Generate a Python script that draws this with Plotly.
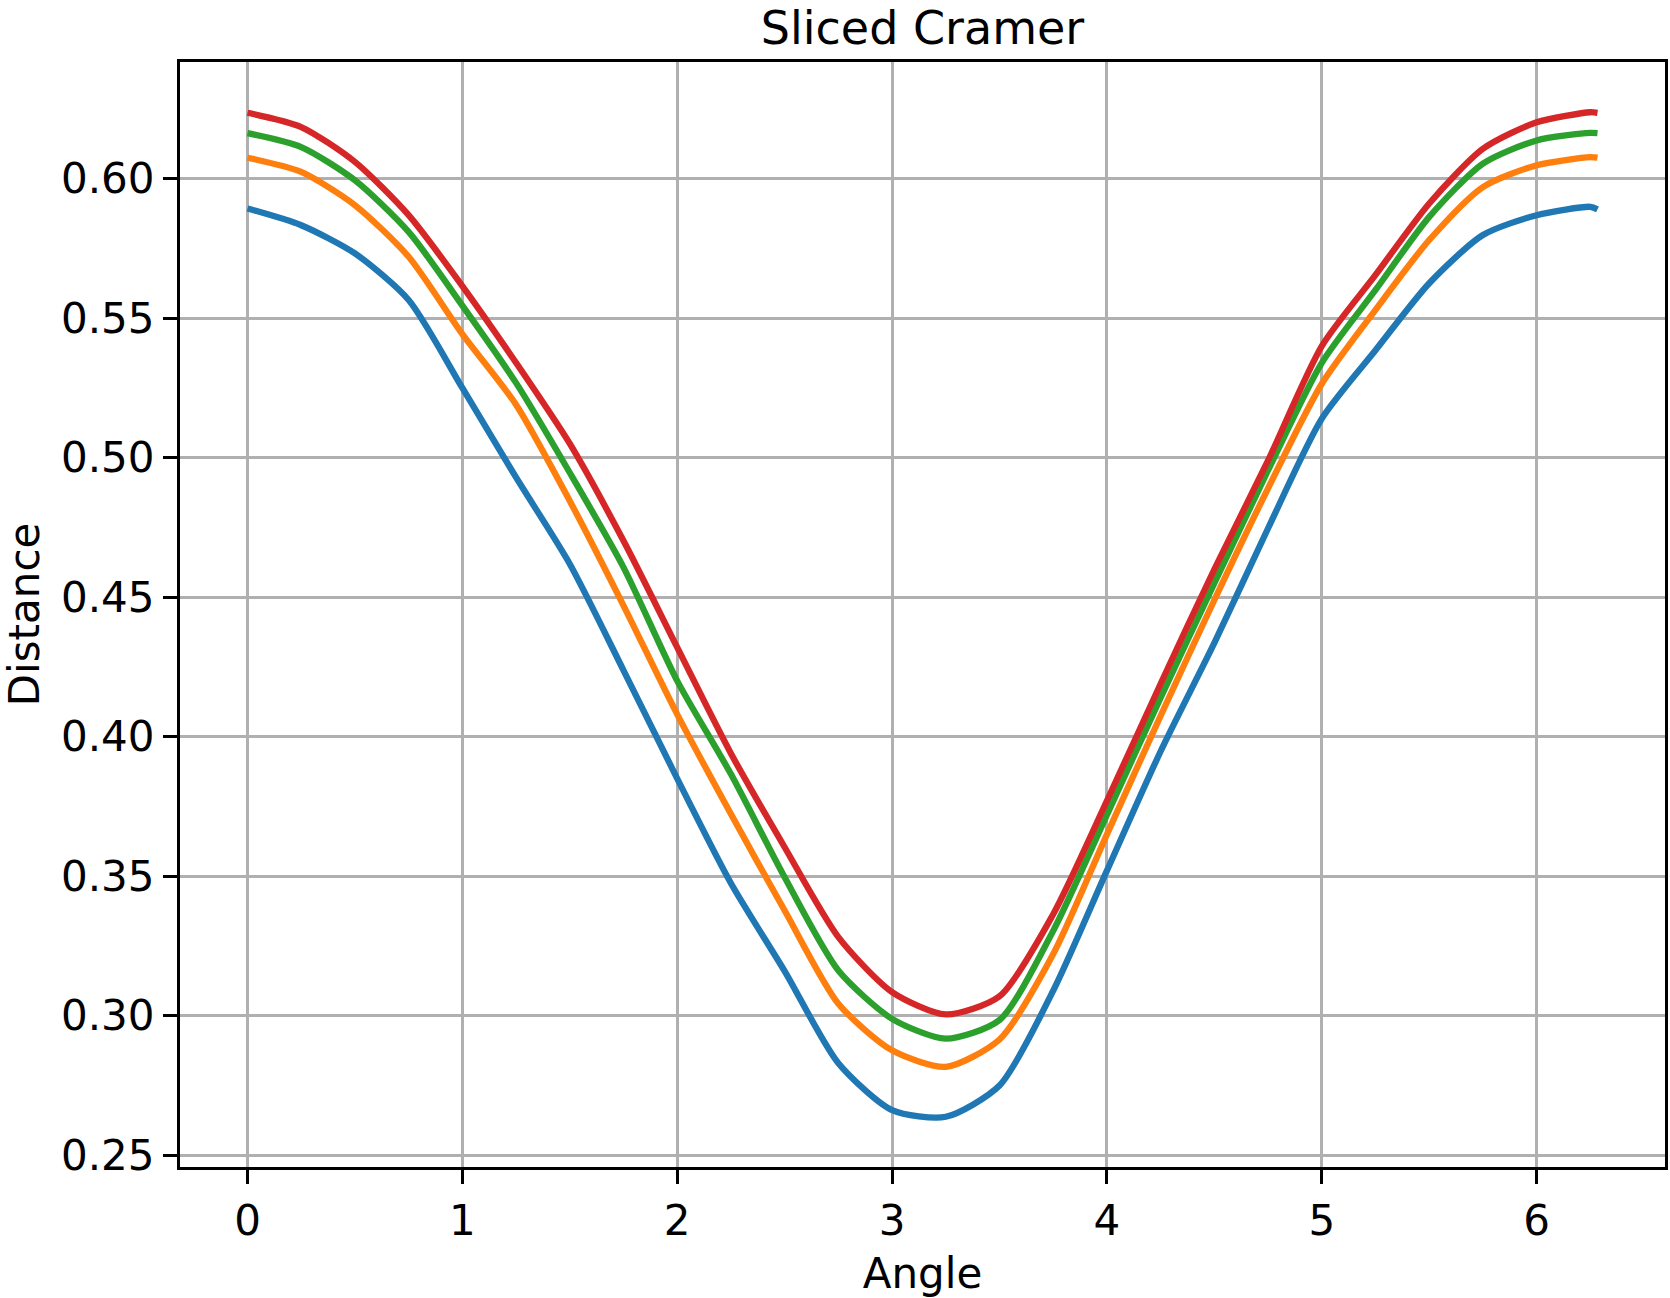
import plotly.graph_objects as go

angles = [0.0, 0.25, 0.5, 0.75, 1.0, 1.25, 1.5, 1.75, 2.0, 2.25, 2.5, 2.75, 3.0, 3.25,
          3.5, 3.75, 4.0, 4.25, 4.5, 4.75, 5.0, 5.25, 5.5, 5.75, 6.0, 6.25, 6.2832]

blue = [0.5893, 0.5833, 0.5732, 0.5565, 0.5250, 0.4929, 0.4619, 0.4238, 0.3850, 0.3475,
        0.3160, 0.2830, 0.2662, 0.2638, 0.2750, 0.3090, 0.3520, 0.3948, 0.4336, 0.4747,
        0.5140, 0.5385, 0.5625, 0.5798, 0.5869, 0.5899, 0.5890]
orange = [0.6075, 0.6024, 0.5905, 0.5720, 0.5443, 0.5190, 0.4845, 0.4470, 0.4080, 0.3723,
          0.3377, 0.3043, 0.2876, 0.2817, 0.2915, 0.3221, 0.3650, 0.4075, 0.4490, 0.4890,
          0.5265, 0.5530, 0.5780, 0.5970, 0.6048, 0.6077, 0.6075]
green = [0.6163, 0.6113, 0.5994, 0.5809, 0.5545, 0.5268, 0.4946, 0.4607, 0.4200, 0.3866,
         0.3496, 0.3162, 0.2989, 0.2918, 0.2985, 0.3305, 0.3720, 0.4140, 0.4550, 0.4955,
         0.5340, 0.5601, 0.5863, 0.6054, 0.6137, 0.6164, 0.6163]
red = [0.6236, 0.6185, 0.6060, 0.5869, 0.5615, 0.5340, 0.5050, 0.4702, 0.4320, 0.3940,
       0.3604, 0.3282, 0.3085, 0.3005, 0.3070, 0.3364, 0.3770, 0.4190, 0.4600, 0.4990,
       0.5400, 0.5655, 0.5911, 0.6107, 0.6202, 0.6238, 0.6236]

series = [("blue", blue, "#1f77b4"), ("orange", orange, "#ff7f0e"),
          ("green", green, "#2ca02c"), ("red", red, "#d62728")]

x_ticks = [0, 1, 2, 3, 4, 5, 6]
y_ticks = [0.25, 0.30, 0.35, 0.40, 0.45, 0.50, 0.55, 0.60]

fig = go.Figure()
for name, vals, col in series:
    fig.add_trace(go.Scatter(x=angles, y=vals, mode="lines", name=name,
                             line=dict(color=col, width=6.3, shape="spline", smoothing=0.7)))

font = "DejaVu Sans"
axis_common = dict(
    showline=True, linecolor="black", linewidth=3.2, mirror=True,
    ticks="outside", ticklen=14, tickwidth=3, tickcolor="black",
    showgrid=True, gridcolor="#b0b0b0", gridwidth=2.8,
    zeroline=False, tickfont=dict(family=font, size=42, color="black"),
)

xmin, xmax = 0.0, 6.2832
xpad = (xmax - xmin) * 0.05
ymin, ymax = min(blue), max(red)
ypad = (ymax - ymin) * 0.05

fig.update_layout(
    width=1670, height=1298,
    margin=dict(l=180, r=2, t=62, b=127),
    paper_bgcolor="white", plot_bgcolor="white",
    showlegend=False,
    font=dict(family=font, color="black"),
    title=dict(text="Sliced Cramer", x=0.5, xref="paper", xanchor="center",
               y=1, yref="paper", yanchor="bottom", pad=dict(b=18),
               font=dict(family=font, size=46, color="black")),
    xaxis=dict(range=[xmin - xpad, xmax + xpad], tickvals=x_ticks,
               ticktext=[str(v) for v in x_ticks],
               title=dict(text="Angle", font=dict(family=font, size=42, color="black"), standoff=22),
               **axis_common),
    yaxis=dict(range=[ymin - ypad, ymax + ypad], tickvals=y_ticks,
               ticktext=[f"{v:.2f}" for v in y_ticks],
               title=dict(text="Distance", font=dict(family=font, size=42, color="black"), standoff=15),
               **axis_common),
)

fig.write_html("out.html")
